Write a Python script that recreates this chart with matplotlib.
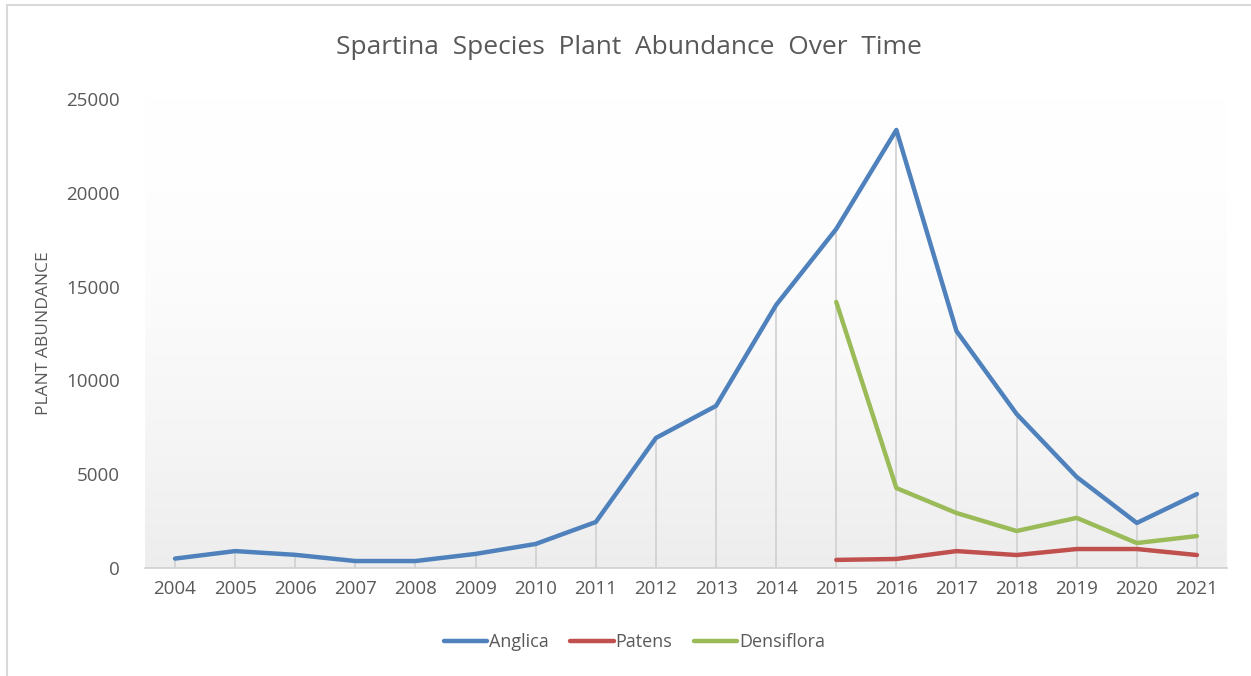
import matplotlib
matplotlib.use("Agg")
import matplotlib.pyplot as plt
import numpy as np
from matplotlib.lines import Line2D

plt.rcParams["font.family"] = ["Open Sans", "DejaVu Sans"]

YEARS = [str(y) for y in range(2004, 2022)]
ANGLICA = [500, 900, 700, 370, 370, 750, 1280, 2450, 6930, 8640, 14020,
           18070, 23350, 12630, 8210, 4850, 2400, 3940]
PATENS = [None] * 11 + [430, 480, 900, 690, 1010, 1010, 690]
DENSIFLORA = [None] * 11 + [14180, 4260, 2930, 1970, 2670, 1330, 1700]

SERIES = [
    ("Anglica", ANGLICA, "#4F81BD"),
    ("Patens", PATENS, "#C0504D"),
    ("Densiflora", DENSIFLORA, "#9BBB59"),
]
TEXT = "#595959"

fig = plt.figure(figsize=(12.51, 6.76), dpi=100)
ax = fig.add_axes([0.1159, 0.1598, 0.8649, 0.6938])

# outer chart border (top + left visible)
fig.add_artist(Line2D([7 / 1251, 1], [1 - 5 / 676, 1 - 5 / 676],
                      color="#d9d9d9", lw=1.5, transform=fig.transFigure))
fig.add_artist(Line2D([7 / 1251, 7 / 1251], [0, 1 - 5 / 676],
                      color="#d9d9d9", lw=1.5, transform=fig.transFigure))

x = np.arange(len(YEARS))

# gradient plot-area background: white at top, light grey at bottom
grad = np.linspace(0, 1, 256) ** 1.8
col = 1.0 - 0.07 * grad
img = np.repeat(col[:, None, None], 3, axis=2)
ax.imshow(img, extent=(-0.5, len(YEARS) - 0.5, 0, 25000), aspect="auto",
          zorder=0, origin="upper")

# drop lines from the highest point at each category
for i in range(len(YEARS)):
    vals = [s[1][i] for s in SERIES if s[1][i] is not None]
    ax.plot([i, i], [0, max(vals)], color="#d0d0d0", lw=1.2, zorder=1)

for name, vals, color in SERIES:
    y = np.array([np.nan if v is None else v for v in vals], dtype=float)
    ax.plot(x, y, color=color, lw=3.2, label=name, zorder=3,
            solid_capstyle="round", solid_joinstyle="round")

ax.set_xlim(-0.5, len(YEARS) - 0.5)
ax.set_ylim(0, 25000)
ax.set_xticks(x)
ax.set_xticklabels(YEARS)
ax.set_yticks(range(0, 25001, 5000))
ax.tick_params(axis="both", length=0, labelsize=13.5, colors=TEXT)
ax.tick_params(axis="y", pad=18)
ax.tick_params(axis="x", pad=9)
for side in ["top", "right", "left"]:
    ax.spines[side].set_visible(False)
ax.spines["bottom"].set_color("#d0d0d0")
ax.spines["bottom"].set_linewidth(1.2)

ax.set_ylabel("PLANT ABUNDANCE", fontsize=12.5, color=TEXT, labelpad=10)
fig.text(0.503, 0.930, "Spartina  Species  Plant  Abundance  Over  Time",
         ha="center", va="center", fontsize=19, color=TEXT)

ax.legend(loc="center", bbox_to_anchor=(0.507, 1 - 642 / 676), bbox_transform=fig.transFigure,
          ncol=3, frameon=False, fontsize=13, labelcolor=TEXT, handlelength=2.4,
          handletextpad=0.1, columnspacing=1.2)

fig.savefig("out.png", dpi=100)
